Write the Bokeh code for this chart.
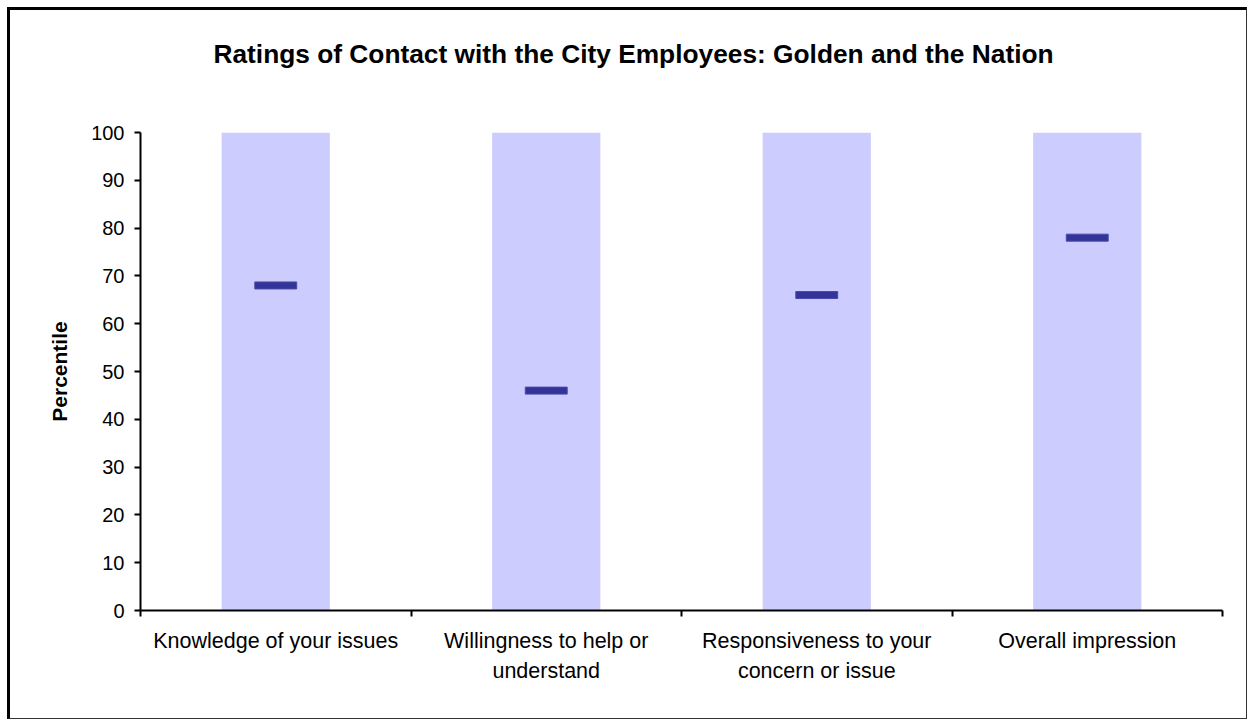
from bokeh.plotting import figure
from bokeh.models import FixedTicker, Title, Range1d, ColumnDataSource
from bokeh.embed import file_html
from bokeh.resources import INLINE

# ---- data ----
categories = [
    "Knowledge of your issues",
    "Willingness to help or understand",
    "Responsiveness to your concern or issue",
    "Overall impression",
]
tick_labels = [
    "Knowledge of your issues",
    "Willingness to help or\nunderstand",
    "Responsiveness to your\nconcern or issue",
    "Overall impression",
]
range_top = [100, 100, 100, 100]
golden_percentile = [68, 46, 66, 78]
y_ticks = [0, 10, 20, 30, 40, 50, 60, 70, 80, 90, 100]
title_text = "Ratings of Contact with the City Employees: Golden and the Nation"
y_title = "Percentile"

n = len(categories)
xpos = [i + 0.5 for i in range(n)]
bounds = [float(i) for i in range(n + 1)]

src = ColumnDataSource(dict(x=xpos, top=range_top, val=golden_percentile, cat=categories))

W, H = 1240, 712
p = figure(width=W, height=H, output_backend="svg", toolbar_location=None,
           x_range=Range1d(0, n), y_range=Range1d(0, 100),
           min_border_left=130, min_border_right=28, min_border_top=122, min_border_bottom=112)
p.styles = {
    "margin-left": "7px", "margin-top": "7px",
    "border-left": "3px solid black", "border-top": "3px solid black",
    "border-right": "1px solid #333333", "border-bottom": "1px solid #333333",
}
p.title = None
p.outline_line_color = None
p.xgrid.grid_line_color = None
p.ygrid.grid_line_color = None
p.background_fill_color = "white"
p.border_fill_color = "white"

p.vbar(x="x", top="top", bottom=0, width=0.4, source=src,
       fill_color="#CCCCFF", line_color=None)
p.rect(x="x", y="val", width=0.155, height=7, height_units="screen", source=src,
       fill_color="#333399", line_color="#4a4aa6", line_width=1)

FONT = "Liberation Sans"
# x axis
xa = p.xaxis[0]
xa.ticker = FixedTicker(ticks=xpos, minor_ticks=bounds)
xa.major_label_overrides = {xp: lab for xp, lab in zip(xpos, tick_labels)}
xa.major_tick_out = 0
xa.major_tick_in = 0
xa.minor_tick_out = 6
xa.minor_tick_in = 0
xa.minor_tick_line_color = "black"
xa.minor_tick_line_width = 2
xa.axis_line_color = "black"
xa.axis_line_width = 2
xa.major_label_standoff = 12
xa.major_label_text_font = FONT
xa.major_label_text_font_size = "21.5px"
xa.major_label_text_color = "black"
xa.major_label_text_line_height = 1.25

# y axis
ya = p.yaxis[0]
ya.ticker = FixedTicker(ticks=y_ticks, minor_ticks=[])
ya.major_tick_out = 6
ya.major_tick_in = 0
ya.major_tick_line_width = 2
ya.major_tick_line_color = "black"
ya.axis_line_color = "black"
ya.axis_line_width = 2
ya.major_label_standoff = 10
ya.major_label_text_font = FONT
ya.major_label_text_font_size = "20px"
ya.major_label_text_color = "black"
ya.axis_label = y_title
ya.axis_label_text_font = FONT
ya.axis_label_text_font_size = "21px"
ya.axis_label_text_font_style = "bold"
ya.axis_label_text_color = "black"
ya.axis_label_standoff = 17

# spacer between frame and title, then the title itself
p.add_layout(Title(text=" ", text_font_size="2px", standoff=60), "above")
p.add_layout(Title(text=title_text, align="left", offset=73, standoff=0,
                   text_font=FONT, text_font_size="26.3px", text_font_style="bold",
                   text_color="black"), "above")

open("out.html", "w").write(file_html(p, INLINE))
